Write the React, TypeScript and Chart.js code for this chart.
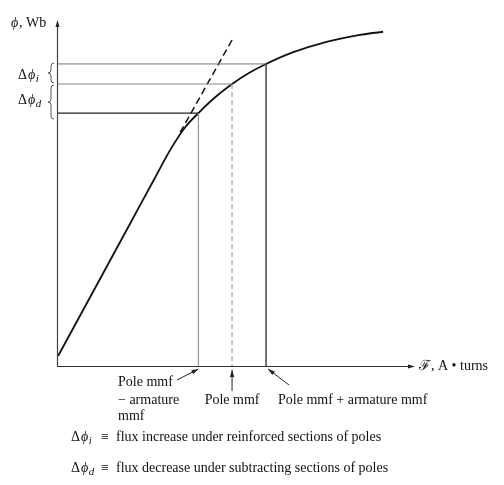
import React, { useEffect, useRef } from "react";
import { Chart, registerables } from "chart.js";
Chart.register(...registerables);

// Magnetization curve (mmf -> flux)
const curveX = [0.3, 10.0, 20.4, 27.0, 31.6, 35.8, 39.5, 44.1, 48.9, 53.6, 58.4, 66.0, 75.3, 84.6, 91.1];
const curveY = [2.9, 21.3, 41.1, 53.7, 62.4, 69.0, 73.1, 77.6, 81.5, 84.7, 87.3, 90.7, 93.7, 95.7, 96.6];
// Dashed linear (air-gap) extension
const tangentX = [34.4, 49.2];
const tangentY = [67.5, 94.8];
// mmf values: pole - armature, pole, pole + armature
const mmfValues = [39.5, 48.9, 58.4];
// flux values at those mmfs
const fluxLevels = [73.1, 81.5, 87.3];

const SERIF = "'Liberation Serif', 'Times New Roman', serif";

export default function App() {
  const ref = useRef<HTMLCanvasElement>(null);
  useEffect(() => {
    const canvas = ref.current!;
    const pts = (xs: number[], ys: number[]) => xs.map((x, i) => ({ x, y: ys[i] }));
    const base = { pointRadius: 0, fill: false, tension: 0 } as any;

    const overlay = {
      id: "overlay",
      afterDraw(chart: any) {
        const ctx = chart.ctx as CanvasRenderingContext2D;
        const xs = chart.scales.x, ys = chart.scales.y;
        const px = (v: number) => xs.getPixelForValue(v);
        const py = (v: number) => ys.getPixelForValue(v);
        const x0 = px(0), y0 = py(0);
        const xEnd = px(100), yTop = py(100);
        ctx.save();
        // axes
        ctx.lineWidth = 1.2;
        ctx.strokeStyle = "#444";
        ctx.beginPath(); ctx.moveTo(x0 + 0.5, y0); ctx.lineTo(x0 + 0.5, yTop + 4); ctx.stroke();
        ctx.strokeStyle = "#333";
        ctx.beginPath(); ctx.moveTo(x0, y0 + 0.5); ctx.lineTo(xEnd - 5, y0 + 0.5); ctx.stroke();
        ctx.fillStyle = "#222";
        ctx.beginPath(); ctx.moveTo(x0 + 0.5, yTop); ctx.lineTo(x0 - 1.5, yTop + 7); ctx.lineTo(x0 + 2.5, yTop + 7); ctx.closePath(); ctx.fill();
        ctx.beginPath(); ctx.moveTo(xEnd, y0 + 0.5); ctx.lineTo(xEnd - 7, y0 - 1.5); ctx.lineTo(xEnd - 7, y0 + 2.5); ctx.closePath(); ctx.fill();

        const arrow = (xa: number, ya: number, xb: number, yb: number) => {
          ctx.strokeStyle = "#222"; ctx.fillStyle = "#222"; ctx.lineWidth = 1;
          ctx.beginPath(); ctx.moveTo(xa, ya); ctx.lineTo(xb, yb); ctx.stroke();
          const a = Math.atan2(yb - ya, xb - xa), L = 7, W = 2.2;
          ctx.beginPath();
          ctx.moveTo(xb, yb);
          ctx.lineTo(xb - L * Math.cos(a) + W * Math.sin(a), yb - L * Math.sin(a) - W * Math.cos(a));
          ctx.lineTo(xb - L * Math.cos(a) - W * Math.sin(a), yb - L * Math.sin(a) + W * Math.cos(a));
          ctx.closePath(); ctx.fill();
        };

        ctx.fillStyle = "#111";
        ctx.textBaseline = "middle";
        const fs = 14;
        // y-axis title
        ctx.textAlign = "left";
        ctx.font = `italic ${fs}px ${SERIF}`;
        ctx.fillText("ϕ", 11, 23);
        ctx.font = `${fs}px ${SERIF}`;
        ctx.fillText(", Wb", 19, 23);
        // x-axis title
        ctx.font = `${fs}px ${SERIF}`;
        ctx.fillText("ℱ, A • turns", xEnd + 4, y0);

        const deltaPhi = (x: number, y: number, sub: string) => {
          ctx.textAlign = "left";
          ctx.font = `${fs}px ${SERIF}`;
          ctx.fillText("Δ", x, y);
          let w = ctx.measureText("Δ").width + 1;
          ctx.font = `italic ${fs}px ${SERIF}`;
          ctx.fillText("ϕ", x + w, y);
          w += ctx.measureText("ϕ").width;
          ctx.font = `italic ${fs - 3}px ${SERIF}`;
          ctx.fillText(sub, x + w + 0.5, y + 4);
        };
        deltaPhi(18, (py(fluxLevels[2]) + py(fluxLevels[1])) / 2 + 1, "i");
        deltaPhi(18, (py(fluxLevels[1]) + py(fluxLevels[0])) / 2 + 1.5, "d");
        const brace = (x: number, ya: number, yb: number) => {
          const ym = (ya + yb) / 2;
          ctx.strokeStyle = "#555"; ctx.lineWidth = 1;
          ctx.beginPath();
          ctx.moveTo(x + 3, ya);
          ctx.quadraticCurveTo(x, ya, x, ya + 3);
          ctx.lineTo(x, ym - 3);
          ctx.quadraticCurveTo(x, ym, x - 3, ym);
          ctx.quadraticCurveTo(x, ym, x, ym + 3);
          ctx.lineTo(x, yb - 3);
          ctx.quadraticCurveTo(x, yb, x + 3, yb);
          ctx.stroke();
        };
        brace(51, py(fluxLevels[2]) - 1, py(fluxLevels[1]) - 1);
        brace(51, py(fluxLevels[1]) + 1, py(fluxLevels[0]) + 6);

        // bottom annotations
        ctx.font = `${fs}px ${SERIF}`;
        ctx.fillStyle = "#111";
        ctx.textAlign = "left";
        ctx.fillText("Pole mmf", 118, 382);
        ctx.fillText("− armature", 118, 400);
        ctx.fillText("mmf", 118, 416);
        arrow(177, 380, px(mmfValues[0]), y0 + 3);
        ctx.textAlign = "center";
        ctx.fillStyle = "#111";
        ctx.font = `${fs}px ${SERIF}`;
        ctx.fillText("Pole mmf", px(mmfValues[1]), 400);
        arrow(px(mmfValues[1]), 391, px(mmfValues[1]), y0 + 4);
        ctx.textAlign = "left";
        ctx.fillStyle = "#111";
        ctx.font = `${fs}px ${SERIF}`;
        ctx.fillText("Pole mmf + armature mmf", 278, 400);
        arrow(289, 385, px(mmfValues[2]) + 2, y0 + 3);

        // definitions
        const defs: [string, string, number][] = [
          ["i", "flux increase under reinforced sections of poles", 437],
          ["d", "flux decrease under subtracting sections of poles", 468],
        ];
        defs.forEach(([s, t, y]) => {
          ctx.fillStyle = "#111";
          deltaPhi(71, y, s);
          ctx.font = `${fs}px ${SERIF}`;
          ctx.textAlign = "left";
          ctx.fillText("≡", 101, y);
          ctx.fillText(t, 116, y);
        });
        ctx.restore();
      },
    };

    const chart = new Chart(canvas, {
      type: "line",
      data: {
        datasets: [
          { ...base, data: [{ x: 0, y: fluxLevels[2] }, { x: mmfValues[2], y: fluxLevels[2] }], borderColor: "#777", borderWidth: 1 },
          { ...base, data: [{ x: 0, y: fluxLevels[1] }, { x: mmfValues[1], y: fluxLevels[1] }], borderColor: "#888", borderWidth: 1 },
          { ...base, data: [{ x: 0, y: fluxLevels[0] }, { x: mmfValues[0], y: fluxLevels[0] }], borderColor: "#222", borderWidth: 1.2 },
          { ...base, data: [{ x: mmfValues[0], y: fluxLevels[0] }, { x: mmfValues[0], y: 0 }], borderColor: "#999", borderWidth: 1.3 },
          { ...base, data: [{ x: mmfValues[1], y: fluxLevels[1] }, { x: mmfValues[1], y: 0 }], borderColor: "#aaa", borderWidth: 1.3, borderDash: [5, 3] },
          { ...base, data: [{ x: mmfValues[2], y: fluxLevels[2] }, { x: mmfValues[2], y: 0 }], borderColor: "#444", borderWidth: 1.5 },
          { ...base, data: pts(tangentX, tangentY), borderColor: "#111", borderWidth: 1.5, borderDash: [7, 4] },
          { ...base, data: pts(curveX, curveY), borderColor: "#111", borderWidth: 1.8, cubicInterpolationMode: "monotone" },
        ],
      },
      options: {
        responsive: false,
        animation: false,
        devicePixelRatio: 1,
        layout: { padding: { left: 57, top: 20, right: 89, bottom: 119 } },
        plugins: { legend: { display: false }, tooltip: { enabled: false } },
        scales: {
          x: { type: "linear", min: 0, max: 100, display: false },
          y: { type: "linear", min: 0, max: 100, display: false },
        },
      },
      plugins: [overlay],
    } as any);
    return () => chart.destroy();
  }, []);
  return (
    <div style={{ position: "absolute", left: 0, top: 0, width: 504, height: 485, background: "#fff" }}>
      <canvas ref={ref} width={504} height={485} />
    </div>
  );
}
